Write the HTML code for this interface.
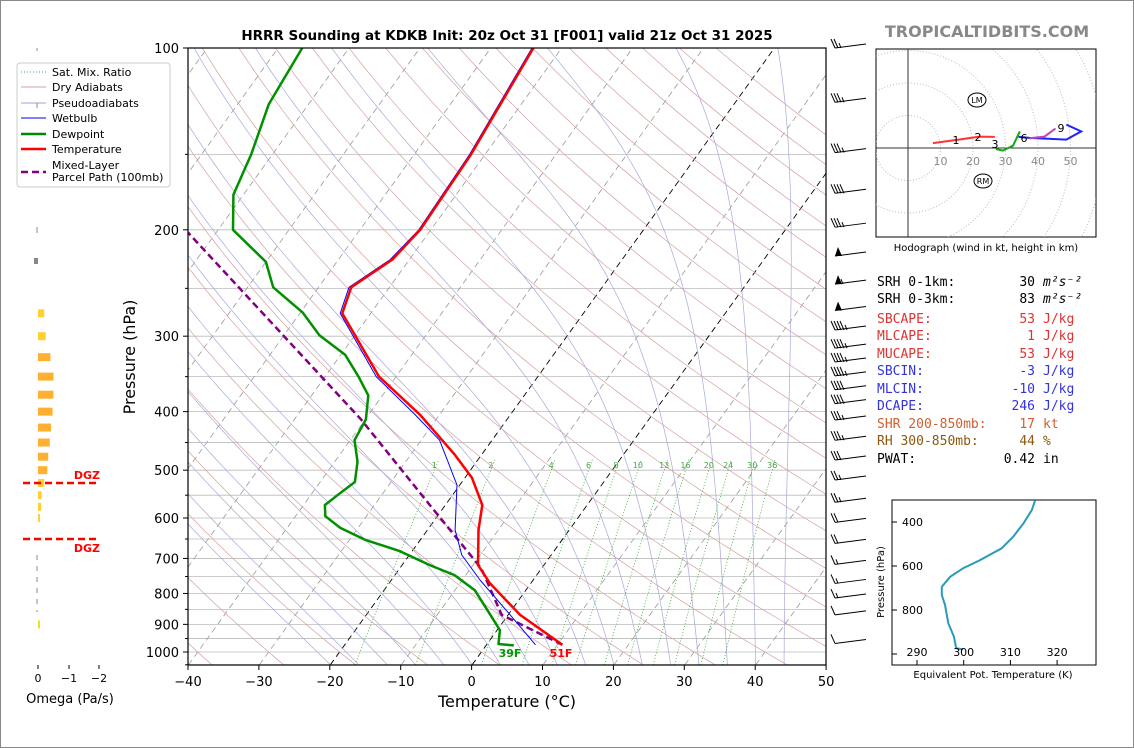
<!DOCTYPE html>
<html><head><meta charset="utf-8"><style>
html,body{margin:0;padding:0;background:#fff}
svg{display:block}
text{font-family:"DejaVu Sans","Liberation Sans",sans-serif}
.mono{font-family:"DejaVu Sans Mono","Liberation Mono",monospace;font-size:13px}
</style></head><body>
<svg id="s" width="1134" height="748" viewBox="0 0 1134 748" xmlns="http://www.w3.org/2000/svg">
<rect x="0.5" y="0.5" width="1133" height="747" fill="#fff" stroke="#888"/>
<defs><clipPath id="pc"><rect x="188" y="48" width="638" height="617"/></clipPath>
<clipPath id="hc"><rect x="876" y="49" width="220" height="188"/></clipPath>
<clipPath id="tc"><rect x="892" y="500" width="204" height="165"/></clipPath></defs>
<g id="bg" clip-path="url(#pc)"></g>
<g id="prof" clip-path="url(#pc)"></g>
<g id="axes"></g>
<text x="507" y="40" text-anchor="middle" font-size="13.5" font-weight="bold">HRRR Sounding at KDKB Init: 20z Oct 31 [F001] valid 21z Oct 31 2025</text>
<text x="987" y="37" text-anchor="middle" font-size="16" font-weight="bold" fill="#888">TROPICALTIDBITS.COM</text>
<g>
<rect x="17" y="63" width="153" height="124" rx="3" fill="#fff" stroke="#ccc"/>
<line x1="21" y1="72" x2="46" y2="72" stroke="#4a4" stroke-dasharray="1,2"/><text x="52" y="76" font-size="11">Sat. Mix. Ratio</text>
<line x1="21" y1="87" x2="46" y2="87" stroke="#d9a0a0"/><text x="52" y="91" font-size="11">Dry Adiabats</text>
<line x1="21" y1="103" x2="46" y2="103" stroke="#a0a0d8"/><line x1="37" y1="103" x2="37" y2="108" stroke="#888"/><text x="52" y="107" font-size="11">Pseudoadiabats</text>
<line x1="21" y1="118" x2="46" y2="118" stroke="#00f"/><text x="52" y="122" font-size="11">Wetbulb</text>
<line x1="21" y1="134" x2="46" y2="134" stroke="#080" stroke-width="2.5"/><text x="52" y="138" font-size="11">Dewpoint</text>
<line x1="21" y1="149" x2="46" y2="149" stroke="red" stroke-width="2.5"/><text x="52" y="153" font-size="11">Temperature</text>
<line x1="21" y1="172" x2="46" y2="172" stroke="#80007f" stroke-width="2.5" stroke-dasharray="7,4"/><text x="52" y="169" font-size="11">Mixed-Layer</text><text x="52" y="181" font-size="11">Parcel Path (100mb)</text>
</g>
<g id="omega"></g>
<g id="hodo"></g>
<g id="barbs"></g>
<g id="stats"></g>
<g id="thetae"></g>
</svg>
<script>
// ---- data ----
const tempP=[973,868,769,718,628,571,515,472,405,350,275,249,224,200,150,100];
const tempT=[10.7,1.7,-5.8,-9.3,-12.8,-14.8,-19,-23.7,-32.7,-42.4,-54,-55.4,-52.4,-51.5,-52,-54];
const dewP=[975,970,920,868,790,746,718,680,652,623,596,571,547,523,484,446,412,376,350,322,299,274,249,226,200,175,150,124,100];
const dewT=[3.9,1.6,0.4,-2.5,-7.2,-11.6,-16.1,-21.9,-27.8,-32.5,-35.8,-37,-36.1,-35.1,-36.8,-39.4,-39.9,-42,-45.3,-49.4,-55,-59.7,-66.4,-70,-77.9,-81.4,-83,-85.6,-86.6];
const wbP=[973,868,760,691,628,529,446,405,350,275,249,224,200,150,100];
const wbT=[6.9,0.3,-7.5,-12.6,-16.1,-20.4,-27.4,-33.4,-42.8,-54.3,-55.7,-52.7,-51.7,-52.2,-54.2];
const parP=[973,868,727,571,412,306,202];
const parT=[10.7,-0.9,-8.5,-22.2,-40.6,-58.7,-84];
const mixW=[1,2,4,6,8,10,13,16,20,24,30,36];
const barbP=[100,123,149,174,198,221,246,272,293,314,331,349,368,388,413,446,481,519,565,610,661,716,770,814,868,968];
const barbS=[25,35,35,40,35,50,55,50,45,45,45,45,40,40,35,35,30,25,25,20,20,15,15,15,10,10];
const omegaP=[275,300,325,350,375,400,425,450,475,500,525,550,575,600,900];
const omegaV=[-0.2,-0.25,-0.4,-0.5,-0.5,-0.47,-0.42,-0.38,-0.33,-0.3,-0.2,-0.12,-0.1,-0.05,-0.03];
const hodoRedU=[7.7,15,22,26.7], hodoRedV=[1.5,2.5,3.5,3.4];
const hodoGrnU=[27,29.2,32.3,34.4], hodoGrnV=[-0.3,-0.8,0.7,5.1];
const hodoBluU=[34,37.4,48.7,53.3,48.7], hodoBluV=[3.4,3.1,2.6,5.1,7.2];
const hodoPurU=[37.4,42,45.4], hodoPurV=[3,3.5,6];
const teP=[300,345,406,467,520,573,610,649,694,732,777,860,921,974,979];
const teV=[315.3,314.6,312.8,310.6,308.1,303.5,299.9,297.1,295.3,295.3,296,296.7,297.9,298.4,299.9];
const xTicks=[-40,-30,-20,-10,0,10,20,30,40,50];
const pTicks=[100,200,300,400,500,600,700,800,900,1000];
// ---- helpers ----
const NS="http://www.w3.org/2000/svg";
function mk(tag,attrs,parent){const e=document.createElementNS(NS,tag);for(const k in attrs)e.setAttribute(k,attrs[k]);parent.appendChild(e);return e;}
const yP=p=>48+604*Math.log10(p/100);
const xT=(T,p)=>472+7.09*T+0.72*(665-yP(p));
function pathOf(ps,ts){return ps.map((p,i)=>(i?'L':'M')+xT(ts[i],p).toFixed(1)+','+yP(p).toFixed(1)).join('');}
const bg=document.getElementById('bg'),prof=document.getElementById('prof'),ax=document.getElementById('axes');
for(let p=100;p<=1050;p+=50){const l=mk('line',{x1:188,x2:826,y1:yP(p),y2:yP(p),stroke:'#bbb','stroke-width':0.8},bg);}
for(let T=-120;T<=50;T+=10){const blk=(T===0||T===-20);const l=mk('path',{d:'M'+xT(T,1050)+','+yP(1050)+'L'+xT(T,100)+','+yP(100),stroke:blk?'#000':'#999','stroke-width':blk?0.9:0.8,'stroke-dasharray':'6,4',fill:'none'},bg);}
for(let th=-40;th<=200;th+=10){let d='';for(let p=1050;p>=100;p-=10){const T=(th+273.15)*Math.pow(p/1000,0.286)-273.15;d+=(d?'L':'M')+xT(T,p).toFixed(1)+','+yP(p).toFixed(1);}const l=mk('path',{d,stroke:'#d4a0a0','stroke-width':0.7,fill:'none'},bg);}
function es(T){return 6.112*Math.exp(17.67*T/(T+243.5));}
for(let T0=-20;T0<=44;T0+=4){let T=T0+273.15,d='';for(let p=1050;p>=100;p-=5){d+=(d?'L':'M')+xT(T-273.15,p).toFixed(1)+','+yP(p).toFixed(1);const e=es(T-273.15),rs=0.622*e/(p-e);const dTdp=(287*T+2.5e6*rs)/(p*(1004+2.5e6*2.5e6*rs*0.622/(287*T*T)));T-=dTdp*5;}const l=mk('path',{d,stroke:'#a8a8dc','stroke-width':0.7,fill:'none'},bg);}
mixW.forEach(w=>{let d='';for(let p=1050;p>=480;p-=10){const e=w*p/(622+w),L=Math.log(e/6.112),T=243.5*L/(17.67-L);d+=(d?'L':'M')+xT(T,p).toFixed(1)+','+yP(p).toFixed(1);}const l=mk('path',{d,stroke:'#3a3','stroke-width':0.8,'stroke-dasharray':'1,2',fill:'none'},bg);
const e=w*500/(622+w),L=Math.log(e/6.112),T=243.5*L/(17.67-L);const t=mk('text',{x:xT(T,500),y:468,'font-size':8,fill:'#4a4','text-anchor':'middle'},bg);t.textContent=w;});
function line(ps,ts,color,w,name,dash){const l=mk('path',{d:pathOf(ps,ts),stroke:color,'stroke-width':w,fill:'none','stroke-linejoin':'round'},prof);if(dash)l.setAttribute('stroke-dasharray',dash);}
line(parP,parT,'#80007f',2.5,'parcel-path','7,4');
line(wbP,wbT,'#0000ff',1,'wetbulb-line');
line(dewP,dewT,'#009000',2.5,'dewpoint-line');
line(tempP,tempT,'#ff0000',2.5,'temperature-line');
let t=mk('text',{x:510,y:657,'font-size':11,'font-weight':'bold',fill:'#090','text-anchor':'middle'},prof);t.textContent='39F';
t=mk('text',{x:561,y:657,'font-size':11,'font-weight':'bold',fill:'red','text-anchor':'middle'},prof);t.textContent='51F';
mk('rect',{x:188,y:48,width:638,height:617,fill:'none',stroke:'#000','stroke-width':1.2},ax);
xTicks.forEach(v=>{const x=188+(v+40)*7.09;mk('line',{x1:x,x2:x,y1:665,y2:670,stroke:'#000'},ax);const tt=mk('text',{x,y:686,'font-size':13,'text-anchor':'middle'},ax);tt.textContent=v<0?'\u2212'+(-v):v;});
pTicks.forEach(p=>{const y=yP(p);mk('line',{x1:183,x2:188,y1:y,y2:y,stroke:'#000'},ax);const tt=mk('text',{x:179,y:y+5,'font-size':13,'text-anchor':'end'},ax);tt.textContent=p;});
for(let p=150;p<=1050;p+=100){const y=yP(p);mk('line',{x1:185,x2:188,y1:y,y2:y,stroke:'#000'},ax);}
t=mk('text',{x:507,y:707,'font-size':16,'text-anchor':'middle'},ax);t.textContent='Temperature (°C)';
t=mk('text',{x:135,y:357,'font-size':16,'text-anchor':'middle',transform:'rotate(-90 135 357)'},ax);t.textContent='Pressure (hPa)';
const om=document.getElementById('omega');
omegaP.forEach((p,i)=>{const w=-omegaV[i]*31;const c=omegaV[i]<=-0.3?'#ffb030':(p>=900?'#f0e020':'#ffd030');const r=mk('rect',{x:38,y:yP(p)-4,width:Math.max(w,2),height:8,fill:c},om);});
mk('rect',{x:34,y:258,width:4,height:6,fill:'#888'},om);
mk('line',{x1:37,x2:37,y1:48,y2:51,stroke:'#888'},om);mk('line',{x1:37,x2:37,y1:227,y2:233,stroke:'#888'},om);
mk('line',{x1:37,x2:37,y1:555,y2:612,stroke:'#888','stroke-dasharray':'5,6'},om);
[[483,'DGZ',480],[539,'DGZ',553]].forEach(a=>{mk('line',{x1:23,x2:99,y1:a[0],y2:a[0],stroke:'red','stroke-width':2.5,'stroke-dasharray':'7,4'},om);const tt=mk('text',{x:100,y:a[2]-1,'font-size':11,'font-weight':'bold',fill:'red','text-anchor':'end'},om);tt.textContent=a[1];});
[[38,'0'],[69,'\u22121'],[99,'\u22122']].forEach(a=>{mk('line',{x1:a[0],x2:a[0],y1:665,y2:669,stroke:'#000'},om);const tt=mk('text',{x:a[0],y:682,'font-size':11,'text-anchor':'middle'},om);tt.textContent=a[1];});
t=mk('text',{x:70,y:703,'font-size':13,'text-anchor':'middle'},om);t.textContent='Omega (Pa/s)';
const hd=document.getElementById('hodo');const ox=908,oy=148,k=3.25;
mk('rect',{x:876,y:49,width:220,height:188,fill:'#fff',stroke:'#000'},hd);
const hg=mk('g',{'clip-path':'url(#hc)'},hd);
for(let r=10;r<=80;r+=10)mk('circle',{cx:ox,cy:oy,r:r*k,fill:'none',stroke:'#bbb','stroke-dasharray':'1,2'},hg);
mk('line',{x1:876,x2:1096,y1:oy,y2:oy,stroke:'#333'},hg);mk('line',{x1:ox,x2:ox,y1:49,y2:237,stroke:'#333'},hg);
[10,20,30,40,50].forEach(v=>{const tt=mk('text',{x:ox+v*k,y:oy+17,'font-size':11,fill:'#888','text-anchor':'middle'},hg);tt.textContent=v;});
function hl(us,vs,c,n){const l=mk('path',{d:us.map((u,i)=>(i?'L':'M')+(ox+u*k).toFixed(1)+','+(oy-vs[i]*k).toFixed(1)).join(''),stroke:c,'stroke-width':2,fill:'none'},hg);}
hl(hodoRedU,hodoRedV,'#f33','hodo-0-3km');hl(hodoGrnU,hodoGrnV,'#1a1','hodo-3-6km');hl(hodoBluU,hodoBluV,'#22f','hodo-6-9km');hl(hodoPurU,hodoPurV,'#b4b','hodo-9km');
[['1',956,144],['2',978,141],['3',995,148],['6',1024,142],['9',1061,132]].forEach(a=>{const tt=mk('text',{x:a[1],y:a[2],'font-size':11,'text-anchor':'middle'},hg);tt.textContent=a[0];});
[['LM',977,100],['RM',983,181]].forEach(a=>{mk('ellipse',{cx:a[1],cy:a[2],rx:9,ry:7,fill:'#fff',stroke:'#000'},hg);const tt=mk('text',{x:a[1],y:a[2]+3,'font-size':8,'text-anchor':'middle'},hg);tt.textContent=a[0];});
t=mk('text',{x:986,y:251,'font-size':10,'text-anchor':'middle'},hd);t.textContent='Hodograph (wind in kt, height in km)';
const bb=document.getElementById('barbs');
barbP.forEach((p,i)=>{const y=yP(p);const g=mk('g',{},bb);
mk('line',{x1:835,y1:y,x2:866,y2:y-4,stroke:'#000','stroke-width':1},g);
let s=barbS[i],pos=835;
while(s>=50){mk('polygon',{points:`${pos},${y} ${pos+3},${y-9} ${pos+7},${y}`,fill:'#000'},g);pos+=8;s-=50;}
while(s>=10){mk('line',{x1:pos,y1:y,x2:pos-4,y2:y-9,stroke:'#000'},g);pos+=3;s-=10;}
if(s>=5){mk('line',{x1:pos,y1:y,x2:pos-2,y2:y-5,stroke:'#000'},g);}
});
const st=document.getElementById('stats');
const rows=[['SRH 0-1km:','30','m²s⁻²','#000'],['SRH 0-3km:','83','m²s⁻²','#000'],['SBCAPE:','53','J/kg','#d33'],['MLCAPE:','1','J/kg','#d33'],['MUCAPE:','53','J/kg','#d33'],['SBCIN:','-3','J/kg','#33d'],['MLCIN:','-10','J/kg','#33d'],['DCAPE:','246','J/kg','#33d'],['SHR 200-850mb:','17','kt','#d06030'],['RH 300-850mb:','44','%','#8a5a10'],['PWAT:','0.42','in','#000']];
const rowY=[286,303,323,340,358,375,393,410,428,445,463];
rows.forEach((r,i)=>{const a=mk('text',{x:877,y:rowY[i],class:'mono',fill:r[3]},st);a.textContent=r[0];
const b=mk('text',{x:1035,y:rowY[i],class:'mono',fill:r[3],'text-anchor':'end'},st);b.textContent=r[1];
const c=mk('text',{x:1043,y:rowY[i],class:'mono',fill:r[3],'font-style':i<2?'italic':'normal'},st);c.textContent=r[2];});
const te=document.getElementById('thetae');const tx=v=>917+(v-290)*4.67,ty=p=>522+(p-400)*0.22;
mk('rect',{x:892,y:500,width:204,height:165,fill:'#fff',stroke:'#000'},te);
const tl=mk('path',{d:teP.map((p,i)=>(i?'L':'M')+tx(teV[i]).toFixed(1)+','+ty(p).toFixed(1)).join(''),stroke:'#2a9ab8','stroke-width':2,fill:'none','clip-path':'url(#tc)'},te);

[400,600,800,1000].forEach(p=>{mk('line',{x1:892,x2:897,y1:ty(p),y2:ty(p),stroke:'#000'},te);if(p<1000){const tt=mk('text',{x:902,y:ty(p)+4,'font-size':11},te);tt.textContent=p;}});
[290,300,310,320].forEach(v=>{mk('line',{x1:tx(v),x2:tx(v),y1:665,y2:660,stroke:'#000'},te);const tt=mk('text',{x:tx(v),y:656,'font-size':11,'text-anchor':'middle'},te);tt.textContent=v;});
t=mk('text',{x:993,y:678,'font-size':10,'text-anchor':'middle'},te);t.textContent='Equivalent Pot. Temperature (K)';
t=mk('text',{x:884,y:582,'font-size':10,'text-anchor':'middle',transform:'rotate(-90 884 582)'},te);t.textContent='Pressure (hPa)';
</script>
</body></html>
